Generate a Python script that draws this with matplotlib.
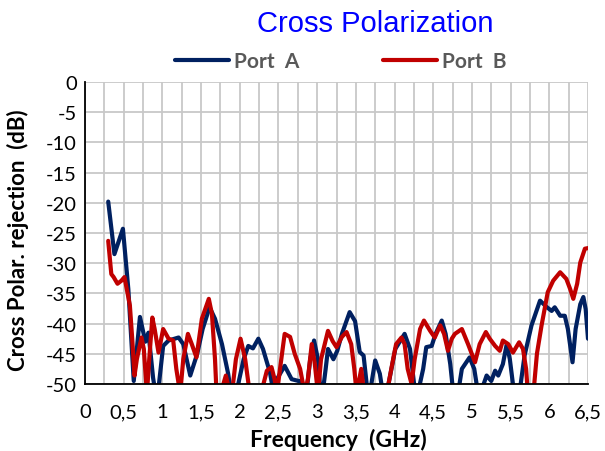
# Cross polarization rejection vs frequency for two ports
import matplotlib
matplotlib.use('Agg')
import matplotlib.pyplot as plt
from matplotlib.ticker import MultipleLocator, FuncFormatter

plt.rcParams['axes.unicode_minus'] = False

# Data (GHz, dB)
freq_a = [0.30, 0.38, 0.49, 0.56, 0.63, 0.71, 0.78, 0.82, 0.88, 0.93,
          1.01, 1.08, 1.21, 1.27, 1.36, 1.45, 1.52, 1.61, 1.68, 1.77,
          1.85, 1.90, 1.98, 2.05, 2.11, 2.17, 2.24, 2.30, 2.39, 2.43,
          2.48, 2.58, 2.67, 2.76, 2.80, 2.86, 2.91, 2.96, 3.01, 3.04,
          3.07, 3.11, 3.14, 3.21, 3.26, 3.32, 3.42, 3.49, 3.55, 3.60,
          3.64, 3.68, 3.75, 3.81, 3.85, 3.91, 4.01, 4.13, 4.20, 4.26,
          4.30, 4.37, 4.41, 4.48, 4.53, 4.61, 4.66, 4.72, 4.76, 4.82,
          4.87, 4.97, 5.03, 5.08, 5.13, 5.19, 5.25, 5.30, 5.34, 5.40,
          5.45, 5.49, 5.53, 5.58, 5.63, 5.68, 5.77, 5.88, 5.97, 6.03,
          6.07, 6.14, 6.20, 6.24, 6.30, 6.34, 6.40, 6.44, 6.47, 6.50]
rej_a = [-19.8, -28.5, -24.3, -34.3, -49.5, -38.9, -43.0, -41.5, -49.0, -53.0,
         -43.7, -42.8, -42.3, -43.4, -48.6, -45.0, -40.9, -37.3, -39.2, -43.4,
         -48.3, -52.5, -50.0, -45.9, -43.7, -44.1, -42.5, -44.2, -48.1, -51.0,
         -49.2, -47.0, -49.2, -49.5, -49.5, -51.7, -45.9, -42.8, -45.9, -50.8,
         -51.6, -47.5, -44.2, -45.9, -44.5, -41.7, -38.1, -39.6, -44.7, -45.3,
         -50.0, -51.6, -46.1, -48.3, -51.6, -50.8, -44.2, -41.7, -44.2, -50.8,
         -51.6, -47.5, -43.9, -43.7, -41.7, -39.5, -41.7, -46.7, -51.6, -51.6,
         -47.5, -45.6, -47.5, -51.6, -50.8, -48.6, -49.5, -47.8, -48.6, -46.7,
         -43.4, -45.9, -50.0, -51.6, -50.0, -45.3, -40.3, -36.2, -37.3, -37.9,
         -37.3, -38.7, -38.7, -40.9, -46.4, -40.9, -36.8, -35.6, -37.6, -42.5]

freq_b = [0.30, 0.34, 0.37, 0.42, 0.47, 0.51, 0.54, 0.58, 0.61, 0.64,
          0.67, 0.73, 0.76, 0.80, 0.83, 0.87, 0.90, 0.95, 1.01, 1.08,
          1.14, 1.18, 1.23, 1.27, 1.33, 1.38, 1.44, 1.51, 1.60, 1.64,
          1.68, 1.70, 1.77, 1.82, 1.86, 1.89, 1.95, 2.01, 2.07, 2.13,
          2.24, 2.29, 2.35, 2.41, 2.45, 2.48, 2.52, 2.58, 2.65, 2.71,
          2.78, 2.84, 2.88, 2.93, 2.97, 3.01, 3.05, 3.14, 3.20, 3.25,
          3.32, 3.38, 3.44, 3.48, 3.51, 3.57, 3.60, 3.64, 3.81, 3.91,
          3.97, 4.02, 4.09, 4.13, 4.17, 4.22, 4.26, 4.33, 4.38, 4.46,
          4.52, 4.59, 4.64, 4.69, 4.74, 4.78, 4.87, 4.95, 5.04, 5.10,
          5.18, 5.23, 5.30, 5.36, 5.40, 5.47, 5.53, 5.61, 5.66, 5.70,
          5.72, 5.75, 5.80, 5.84, 5.90, 5.98, 6.05, 6.14, 6.22, 6.27,
          6.31, 6.36, 6.40, 6.46, 6.50]
rej_b = [-26.3, -31.8, -32.3, -33.4, -32.9, -32.3, -34.3, -37.0, -42.5, -48.6,
         -45.9, -42.3, -44.2, -51.6, -45.9, -39.0, -40.9, -44.8, -40.9, -42.5,
         -42.8, -47.5, -51.6, -45.9, -41.7, -43.4, -45.6, -39.2, -35.9, -38.4,
         -45.9, -51.6, -50.8, -48.6, -50.8, -52.5, -45.9, -42.5, -45.9, -51.6,
         -52.5, -50.8, -47.8, -47.2, -49.2, -51.6, -47.5, -41.7, -42.2, -45.0,
         -47.5, -51.6, -49.2, -43.4, -46.7, -51.6, -45.9, -41.2, -42.9, -43.9,
         -42.2, -41.4, -43.4, -47.5, -51.6, -47.5, -50.8, -52.5, -52.5, -50.8,
         -46.7, -43.4, -42.3, -43.4, -47.5, -50.0, -45.9, -40.9, -39.5, -41.2,
         -42.3, -40.3, -41.7, -44.5, -42.5, -41.7, -40.9, -43.4, -46.4, -43.4,
         -41.4, -42.5, -43.7, -44.5, -42.8, -43.4, -44.8, -43.1, -44.2, -47.5,
         -51.0, -52.5, -50.8, -45.0, -40.3, -34.8, -32.9, -31.5, -32.6, -34.3,
         -35.9, -33.4, -29.9, -27.6, -27.5]

series_labels = ['Port  A', 'Port  B']
series_colors = ['#002060', '#C00000']

x_ticks = [0, 0.5, 1, 1.5, 2, 2.5, 3, 3.5, 4, 4.5, 5, 5.5, 6, 6.5]
y_ticks = [0, -5, -10, -15, -20, -25, -30, -35, -40, -45, -50]

TICK_FONT = 'Lato'
LABEL_FONT = 'Lato'
TITLE_FONT = 'Liberation Sans'


def comma_fmt(v, pos):
    """Format tick with decimal comma, like the original spreadsheet"""
    return ('%g' % v).replace('.', ',')


def main():
    fig = plt.figure(figsize=(6.05, 4.52), dpi=100)
    ax = fig.add_axes([85 / 605, 1 - 385 / 452, 503 / 605, 302 / 452])

    for fx, ry, lab, col in zip([freq_a, freq_b], [rej_a, rej_b],
                                series_labels, series_colors):
        ax.plot(fx, ry, color=col, linewidth=3.0, label=lab,
                solid_capstyle='round', solid_joinstyle='round', zorder=3)

    ax.set_xlim(0, 6.5)
    ax.set_ylim(-50, 0)
    ax.set_xticks(x_ticks)
    ax.set_yticks(y_ticks)
    ax.xaxis.set_minor_locator(MultipleLocator(0.25))
    ax.xaxis.set_major_formatter(FuncFormatter(comma_fmt))

    # grid: horizontal every 5 dB, vertical every 0.25 GHz
    ax.grid(True, which='both', axis='x', color='#c8c8c8', linewidth=1.3)
    ax.grid(True, which='major', axis='y', color='#c8c8c8', linewidth=1.3)
    ax.set_axisbelow(True)

    for side in ['top', 'right']:
        ax.spines[side].set_visible(False)
    for side in ['left', 'bottom']:
        ax.spines[side].set_color('black')
        ax.spines[side].set_linewidth(1.3)
        ax.spines[side].set_zorder(4)

    ax.tick_params(axis='both', which='both', length=0, labelsize=14.5)
    ax.tick_params(axis='x', pad=14)
    ax.tick_params(axis='y', pad=6)
    for t in ax.get_xticklabels() + ax.get_yticklabels():
        t.set_fontname(TICK_FONT)

    # labels and title
    fig.text(338 / 605, 1 - 440 / 452, 'Frequency  (GHz)', ha='center', va='center',
             fontname=LABEL_FONT, fontweight='bold', fontsize=16.5)
    fig.text(18 / 605, 1 - 240 / 452, 'Cross Polar. rejection  (dB)', ha='center',
             va='center', rotation=90, fontname=LABEL_FONT, fontweight='bold',
             fontsize=16)
    fig.text(375 / 605, 1 - 24 / 452, 'Cross Polarization', ha='center', va='center',
             fontname=TITLE_FONT, fontsize=21, color='#0000FF')

    # legend across the top
    handles, labels = ax.get_legend_handles_labels()
    fig.legend(handles, labels, loc='center', bbox_to_anchor=(341 / 605, 1 - 62 / 452),
               ncol=2, frameon=False, handlelength=2.6, handletextpad=0.25,
               columnspacing=4.0, labelcolor='#595959',
               prop={'family': LABEL_FONT, 'weight': 'bold', 'size': 15})

    fig.savefig('out.png', dpi=100)


if __name__ == "__main__":
    main()
